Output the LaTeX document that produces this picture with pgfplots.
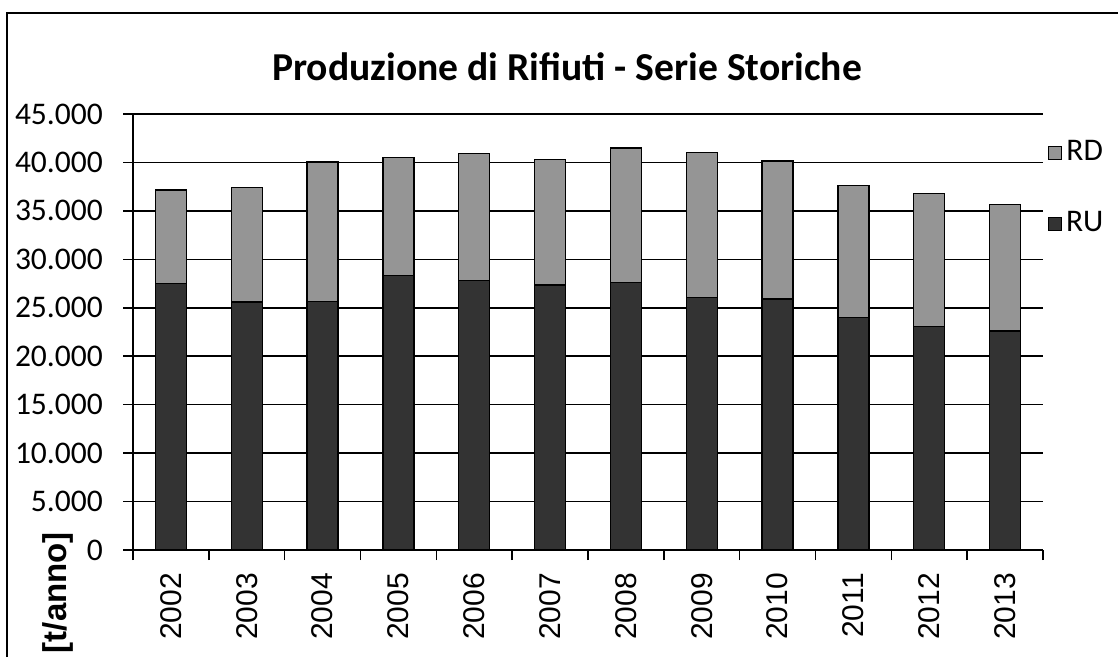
\documentclass[border=0pt]{standalone}
\usepackage{fontspec}
\setmainfont{Carlito}
\newfontfamily\lib{Liberation Sans}
\usepackage{pgfplots}
\pgfplotsset{compat=1.18}
\definecolor{ruc}{HTML}{333333}
\definecolor{rdc}{HTML}{959595}
\begin{document}
\begin{tikzpicture}
\path[use as bounding box] (0,0) rectangle (1118pt,657pt);
\draw[line width=2pt] (7pt,0pt) -- (7pt,643.5pt) -- (1118pt,643.5pt);
\begin{axis}[
  at={(133pt,107pt)}, anchor=south west,
  scale only axis, width=910pt, height=436pt,
  xmin=-0.5, xmax=11.5, ymin=0, ymax=45000,
  scaled y ticks=false,
  ybar stacked, bar width=31pt,
  axis x line=bottom, axis y line=left,
  axis line style={-, line width=1.6pt, black},
  xtick={0,...,11},
  xticklabels={2002,2003,2004,2005,2006,2007,2008,2009,2010,2011,2012,2013},
  minor xtick={-0.5,0.5,...,11.5},
  major x tick style={draw=none},
  minor x tick style={line width=1.6pt, black},
  minor tick length=10pt,
  ytick={0,5000,...,45000},
  yticklabels={0,5.000,10.000,15.000,20.000,25.000,30.000,35.000,40.000,45.000},
  major y tick style={line width=1.6pt, black},
  major tick length=10pt,
  tick align=outside,
  ymajorgrids, major grid style={line width=1.6pt, black},
  yticklabel style={font=\fontsize{31.5}{36}\selectfont, anchor=east, inner sep=0pt, xshift=-20pt},
  xticklabel style={font=\lib\fontsize{30}{34}\selectfont, rotate=90, anchor=east, inner sep=0pt, xshift=-13pt},
  ylabel={[t/anno]},
  ylabel style={font=\lib\bfseries\fontsize{33}{38}\selectfont, at={(rel axis cs:-0.082,-0.0975)}, anchor=center, rotate=0},
  title={Produzione di Rifiuti - Serie Storiche},
  title style={font=\bfseries\fontsize{39.6}{44}\selectfont, at={(rel axis cs:0.477,1.062)}, anchor=base},
  legend style={at={(rel axis cs:1.0055,0.944)}, anchor=north west, draw=none, fill=none,
    inner sep=0pt, font=\fontsize{31.5}{36}\selectfont,
    nodes={inner sep=0pt, text height=22pt, text depth=7pt},
    row sep=42pt, column sep=4pt},
  reverse legend,
  legend image code/.code={\draw[#1, line width=0.8pt] (0pt,-6.5pt) rectangle (13pt,6.5pt);},
]
\addplot+[fill=ruc, draw=black, line width=1.2pt] coordinates {
(0,27500) (1,25600) (2,25650) (3,28300) (4,27800) (5,27350)
(6,27600) (7,26100) (8,25900) (9,24000) (10,23100) (11,22600)};
\addlegendentry{RU}
\addplot+[fill=rdc, draw=black, line width=1.2pt] coordinates {
(0,9650) (1,11800) (2,14400) (3,12250) (4,13100) (5,12950)
(6,13900) (7,14900) (8,14250) (9,13600) (10,13700) (11,13100)};
\addlegendentry{RD}
\end{axis}
\end{tikzpicture}
\end{document}
